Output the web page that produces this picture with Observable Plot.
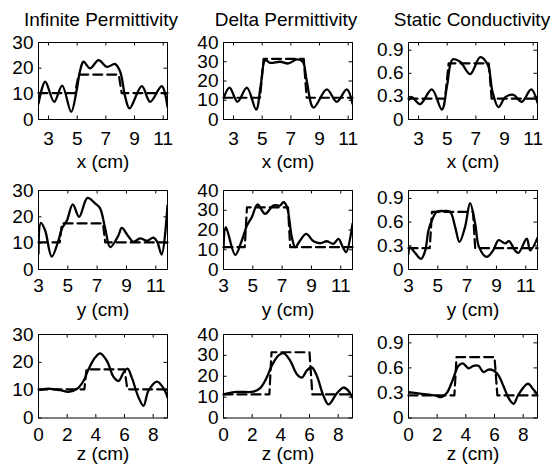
<!DOCTYPE html>
<html><head><meta charset="utf-8">
<script src="https://cdn.jsdelivr.net/npm/d3@7"></script>
<script src="https://cdn.jsdelivr.net/npm/@observablehq/plot@0.6"></script>
<style>
body{margin:0;background:#fff;}
#fig{position:relative;width:553px;height:464px;overflow:hidden;background:#fff;font-family:"Liberation Sans",Arial,Helvetica,sans-serif;}
.title{position:absolute;font-size:19px;line-height:1;white-space:nowrap;transform:translateX(-50%);color:#000;}
#fig svg{position:absolute;overflow:visible;}
</style></head><body><div id="fig"></div>
<script>
// ---- labels and axes ----
const columnTitles = ["Infinite Permittivity", "Delta Permittivity", "Static Conductivity"];
const rowLabels = ["x (cm)", "y (cm)", "z (cm)"];
const rowDomains = [[2.3, 11.3], [3, 11.8], [0, 9]];
const rowTicks = [[3, 5, 7, 9, 11], [3, 5, 7, 9, 11], [0, 2, 4, 6, 8]];
const colDomains = [[0, 30], [0, 40], [0, 1]];
const colTicks = [[0, 10, 20, 30], [0, 10, 20, 30, 40], [0, 0.3, 0.6, 0.9]];

// ---- true (dashed) profiles ----
const trueX = [2.3, 4.85, 5.1, 7.9, 8.1, 11.3];
const trueY = [3, 4.45, 4.6, 7.4, 7.55, 11.8];
const trueZ = [0, 3.2, 3.35, 6.0, 6.2, 9];
const trueInf = [10.3, 10.3, 17.5, 17.5, 10.3, 10.3];
const trueDelta = [11.3, 11.3, 31.5, 31.5, 11.3, 11.3];
const trueCond = [0.27, 0.27, 0.73, 0.73, 0.27, 0.27];

// ---- reconstructed (solid) profiles ----
const recInfX_pos = [2.3, 2.77, 3.39, 3.95, 4.58, 4.95, 5.2, 5.44, 5.9, 6.49, 7.07, 7.65, 8.0, 8.35, 8.65, 9.51, 10.09, 10.9, 11.3];
const recInfX_val = [6.2, 14.7, 6.9, 13.2, 3.0, 11, 19, 22.5, 19.9, 23.1, 20.5, 21.6, 18.6, 8.8, 4.3, 13, 6.9, 13, 4.9];
const recDeltaX_pos = [2.3, 2.72, 3.28, 3.93, 4.58, 4.9, 5.21, 5.56, 6.25, 6.83, 7.42, 7.83, 8.1, 8.58, 9.51, 10.2, 10.9, 11.3];
const recDeltaX_val = [10.9, 16.6, 9.2, 16.6, 5.2, 18, 30.8, 29.4, 30, 29.1, 31.2, 30, 20.4, 6.2, 15.6, 9.2, 15.6, 8.3];
const recCondX_pos = [2.3, 2.53, 3.11, 3.93, 4.63, 5.0, 5.37, 5.9, 6.6, 7.3, 7.83, 8.16, 8.58, 9.05, 9.63, 10.2, 10.86, 11.3];
const recCondX_val = [0.25, 0.29, 0.2, 0.39, 0.13, 0.45, 0.78, 0.75, 0.59, 0.81, 0.71, 0.36, 0.16, 0.29, 0.32, 0.23, 0.39, 0.22];

const recInfY_pos = [3, 3.16, 3.45, 3.9, 4.36, 4.6, 4.93, 5.34, 5.77, 6.34, 6.86, 7.2, 7.55, 7.89, 8.45, 8.68, 9.14, 9.48, 9.93, 10.4, 10.84, 11.1, 11.4, 11.8];
const recInfY_val = [6, 17.7, 14.9, 4.9, 11, 15.6, 18.5, 24.7, 20, 27.2, 25.1, 23.2, 15.6, 8.5, 12.9, 15.8, 12.5, 10.5, 11.8, 10.9, 12.1, 10.5, 5.7, 24.3];
const recDeltaY_pos = [3, 3.16, 3.8, 4.25, 4.6, 4.93, 5.32, 5.84, 6.4, 6.86, 7.09, 7.32, 7.66, 7.89, 8.23, 8.64, 9.14, 9.59, 10.05, 10.5, 10.84, 11.14, 11.36, 11.8];
const recDeltaY_val = [10.5, 21.4, 7.4, 14.7, 22.3, 26.5, 32.9, 28.2, 32.4, 32.4, 34.1, 31.9, 16.4, 11.3, 14.7, 18, 14.3, 13.3, 14.3, 13, 15.5, 11.3, 8.8, 23.1];
const recCondY_pos = [3, 3.1, 3.45, 3.86, 4.14, 4.36, 4.59, 4.93, 5.39, 5.84, 6.18, 6.48, 6.86, 7.2, 7.55, 7.82, 8.34, 8.8, 9.14, 9.6, 9.86, 10.27, 10.5, 11.07, 11.3, 11.8];
const recCondY_val = [0.2, 0.28, 0.21, 0.135, 0.24, 0.49, 0.62, 0.73, 0.74, 0.73, 0.54, 0.35, 0.54, 0.84, 0.58, 0.28, 0.16, 0.25, 0.37, 0.33, 0.36, 0.24, 0.21, 0.39, 0.24, 0.4];

const recInfZ_pos = [0, 0.81, 1.51, 2.09, 2.67, 3.14, 3.49, 3.95, 4.3, 4.77, 5.23, 5.58, 5.93, 6.21, 6.51, 6.98, 7.33, 7.67, 8.26, 8.72, 9];
const recInfZ_val = [10, 10.5, 10, 9.4, 10.4, 13.3, 17.5, 21.7, 23.2, 20.5, 14.8, 13.3, 16.3, 17.7, 14.5, 7.4, 4.4, 9.8, 13.1, 10.7, 7.4];
const recDeltaZ_pos = [0, 0.93, 2.09, 2.56, 3.02, 3.37, 3.84, 4.19, 4.65, 5.12, 5.47, 5.81, 6.16, 6.51, 6.98, 7.33, 7.9, 8.37, 8.72, 9];
const recDeltaZ_val = [11.3, 12.5, 12.6, 14.3, 19.4, 25.1, 30, 31.1, 27.5, 21, 19.4, 22.7, 24.3, 20.2, 10.5, 6.5, 11.7, 14.6, 13, 9.7];
const recCondZ_pos = [0, 0.93, 1.86, 2.28, 2.67, 3.07, 3.49, 3.79, 4.19, 4.53, 4.88, 5.23, 5.58, 5.93, 6.28, 6.63, 6.98, 7.33, 7.67, 8.33, 8.72, 9];
const recCondZ_val = [0.31, 0.29, 0.27, 0.25, 0.3, 0.45, 0.625, 0.655, 0.595, 0.625, 0.625, 0.55, 0.58, 0.57, 0.51, 0.38, 0.24, 0.17, 0.28, 0.41, 0.34, 0.28];

// ---- assemble tables ----
const zip = (xs, ys) => xs.map((x, i) => ({x, y: ys[i]}));
const truePos = [trueX, trueY, trueZ];
const trueVals = [trueInf, trueDelta, trueCond];
const recon = [
  [zip(recInfX_pos, recInfX_val), zip(recDeltaX_pos, recDeltaX_val), zip(recCondX_pos, recCondX_val)],
  [zip(recInfY_pos, recInfY_val), zip(recDeltaY_pos, recDeltaY_val), zip(recCondY_pos, recCondY_val)],
  [zip(recInfZ_pos, recInfZ_val), zip(recDeltaZ_pos, recDeltaZ_val), zip(recCondZ_pos, recCondZ_val)]
];

// ---- layout ----
const FONT = '"Liberation Sans", Arial, Helvetica, sans-serif';
const ML = 40, MR = 14, MT = 14, MB = 62;
const frameLeft = [38.3, 223.3, 408.3];
const frameW = 129;
const frameTop = [42.3, 190, 333.5];
const frameH = [77, 79, 83.5];
const tickPad = [12, 9, 9];
const labelDy = [48.5, 46, 42];
const titleCenter = [101, 286, 472];

const fig = document.getElementById("fig");
columnTitles.forEach((t, c) => {
  const d = document.createElement("div");
  d.className = "title";
  d.textContent = t;
  d.style.left = titleCenter[c] + "px";
  d.style.top = "10px";
  fig.appendChild(d);
});

for (let r = 0; r < 3; r++) {
  for (let c = 0; c < 3; c++) {
    const fw = frameW, fh = frameH[r];
    const chart = Plot.plot({
      width: ML + fw + MR,
      height: MT + fh + MB,
      marginLeft: ML, marginRight: MR, marginTop: MT, marginBottom: MB,
      style: {fontFamily: FONT, fontSize: "19px", color: "#000", background: "transparent", overflow: "visible"},
      x: {domain: rowDomains[r], ticks: rowTicks[r], tickFormat: d => String(d), tickSize: 0, tickPadding: tickPad[r], label: null},
      y: {domain: colDomains[c], ticks: colTicks[c], tickFormat: d => String(d), tickSize: 0, tickPadding: 5, label: null},
      marks: [
        Plot.tickX(rowTicks[r], {x: d => d, insetTop: fh - 3.5, stroke: "#000", strokeWidth: 1}),
        Plot.tickX(rowTicks[r], {x: d => d, insetBottom: fh - 3.5, stroke: "#000", strokeWidth: 1}),
        Plot.tickY(colTicks[c], {y: d => d, insetRight: fw - 3.5, stroke: "#000", strokeWidth: 1}),
        Plot.tickY(colTicks[c], {y: d => d, insetLeft: fw - 3.5, stroke: "#000", strokeWidth: 1}),
        Plot.line(zip(truePos[r], trueVals[c]), {x: "x", y: "y", stroke: "#000", strokeWidth: 2.2, strokeDasharray: "9,5"}),
        Plot.line(recon[r][c], {x: "x", y: "y", curve: "catmull-rom", stroke: "#000", strokeWidth: 2.3, clip: true}),
        Plot.frame({stroke: "#000", strokeWidth: 1}),
        Plot.text([rowLabels[r]], {text: d => d, frameAnchor: "bottom", dy: labelDy[r], lineAnchor: "bottom", fontSize: 19, fill: "#000"})
      ]
    });
    chart.style.left = (frameLeft[c] - ML) + "px";
    chart.style.top = (frameTop[r] - MT) + "px";
    fig.appendChild(chart);
  }
}
</script></body></html>
